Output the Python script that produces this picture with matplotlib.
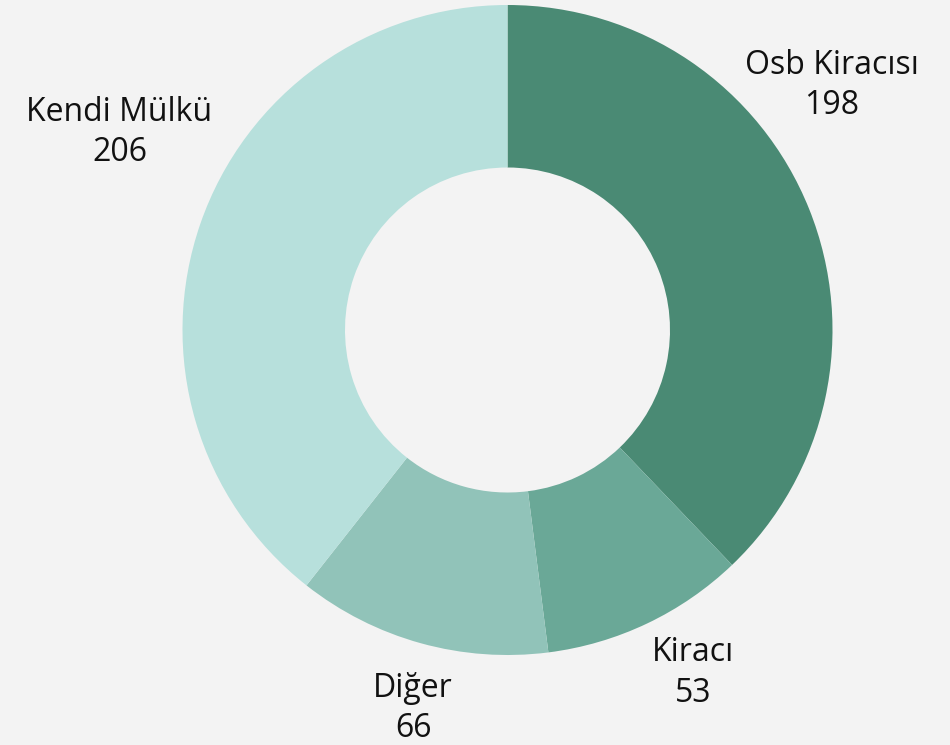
import matplotlib.pyplot as plt
import numpy as np

labels = ["Osb Kiracısı", "Kiracı", "Diğer", "Kendi Mülkü"]
values = [198, 53, 66, 206]
colors = ["#4a8a74", "#6aa897", "#91c3b9", "#b7e0dc"]

# label placement (angle in degrees, distance as fraction of radius)
label_angle = [37, -61.6, -104, 153]
label_dist = [1.25, 1.20, 1.20, 1.34]

W, H = 950, 745
cx, cy, R = 507.5, H - 330, 325

fig = plt.figure(figsize=(W / 100, H / 100), dpi=100, facecolor="#f3f3f3")
ax = fig.add_axes([0, 0, 1, 1])
ax.set_facecolor("#f3f3f3")
ax.axis("off")

ax.pie(values, colors=colors, startangle=90, counterclock=False,
       center=(cx, cy), radius=R,
       wedgeprops=dict(width=R * 0.5, linewidth=0))
ax.set_xlim(0, W)
ax.set_ylim(0, H)
ax.set_aspect("equal")

for lab, v, a, d in zip(labels, values, label_angle, label_dist):
    x = cx + R * d * np.cos(np.radians(a))
    y = cy + R * d * np.sin(np.radians(a))
    ax.text(x, y, f"{lab}\n{v}", ha="center", va="center",
            fontsize=23, family=["Open Sans", "DejaVu Sans"], color="#111111",
            linespacing=1.3)

fig.savefig("out.png", dpi=100, facecolor=fig.get_facecolor())
